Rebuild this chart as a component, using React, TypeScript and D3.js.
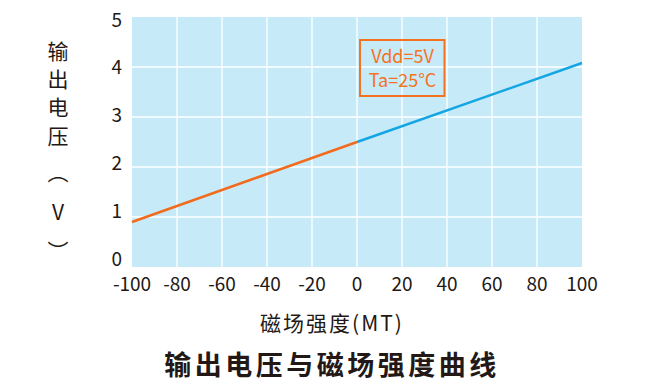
import * as d3 from "d3";

// field strength (MT) vs output voltage (V)
const fieldNeg = [-100, 0];
const voltNeg = [0.9, 2.5];
const fieldPos = [0, 100];
const voltPos = [2.5, 4.08];

const xTicks = [-100, -80, -60, -40, -20, 0, 20, 40, 60, 80, 100];
const yTicks = [0, 1, 2, 3, 4, 5];

const yTitleChars = ["输", "出", "电", "压", "︵", "V", "︶"];
const noteLines = ["Vdd=5V", "Ta=25°C"];
const xTitle = "磁场强度(MT)";
const chartTitle = "输出电压与磁场强度曲线";

const W = 661;
const H = 391;
const plot = { left: 132, right: 582, top: 17, bottom: 267 };
const font = '"Noto Sans CJK SC", "Noto Sans", sans-serif';

const App = () => {
  const x = d3.scaleLinear().domain([-100, 100]).range([plot.left, plot.right]);
  const y = d3.scaleLinear().domain([0, 5]).range([plot.bottom, plot.top]);
  // tick labels in the picture sit slightly off the grid lines
  const yLabel = d3.scaleLinear().domain([0, 5]).range([plot.bottom - 10, plot.top + 1]);

  const line = d3
    .line<[number, number]>()
    .x((d) => x(d[0]))
    .y((d) => y(d[1]));

  const negPts = fieldNeg.map((f, i) => [f, voltNeg[i]] as [number, number]);
  const posPts = fieldPos.map((f, i) => [f, voltPos[i]] as [number, number]);

  const yTitleY = [50, 78, 106, 135, 171, 211, 250];

  return (
    <svg
      width={W}
      height={H}
      style={{ position: "absolute", left: 0, top: 0, background: "#fff" }}
      fontFamily={font}
    >
      <rect
        x={plot.left}
        y={plot.top}
        width={plot.right - plot.left}
        height={plot.bottom - plot.top}
        fill="#c7eaf9"
      />
      {/* grid */}
      {xTicks.slice(1, -1).map((t) => (
        <line
          key={"gx" + t}
          x1={x(t)}
          x2={x(t)}
          y1={plot.top}
          y2={plot.bottom}
          stroke="#fff"
          strokeWidth={1.3}
        />
      ))}
      {yTicks.slice(1, -1).map((t) => (
        <line
          key={"gy" + t}
          x1={plot.left}
          x2={plot.right}
          y1={y(t)}
          y2={y(t)}
          stroke="#fff"
          strokeWidth={1.3}
        />
      ))}

      {/* series */}
      <path d={line(posPts) ?? ""} fill="none" stroke="#13a6e3" strokeWidth={2.5} />
      <path d={line(negPts) ?? ""} fill="none" stroke="#f26a1b" strokeWidth={2.5} />

      {/* note box */}
      <rect x={360} y={40} width={84.5} height={56} fill="none" stroke="#f37321" strokeWidth={2} />
      {noteLines.map((s, i) => (
        <text
          key={s}
          x={402.5}
          y={63 + i * 23.5}
          textAnchor="middle"
          fontSize={18}
          fill="#f37321"
        >
          {s}
        </text>
      ))}

      {/* axis labels */}
      {yTicks.map((t) => (
        <text
          key={"yl" + t}
          x={122}
          y={yLabel(t)}
          textAnchor="end"
          dominantBaseline="central"
          fontSize={19}
          fill="#231815"
        >
          {t}
        </text>
      ))}
      {xTicks.map((t) => (
        <text key={"xl" + t} x={x(t)} y={291} textAnchor="middle" fontSize={19} fill="#231815">
          {t}
        </text>
      ))}

      {yTitleChars.map((c, i) => (
        <text
          key={"yt" + i}
          x={58}
          y={yTitleY[i]}
          textAnchor="middle"
          dominantBaseline="central"
          fontSize={21}
          fill="#231815"
        >
          {c}
        </text>
      ))}

      <text
        x={332}
        y={322}
        textAnchor="middle"
        dominantBaseline="central"
        fontSize={21}
        letterSpacing={2}
        fill="#231815"
      >
        {xTitle}
      </text>
      <text
        x={332}
        y={363}
        textAnchor="middle"
        dominantBaseline="central"
        fontSize={27}
        fontWeight="bold"
        letterSpacing={3.5}
        fill="#231815"
      >
        {chartTitle}
      </text>
    </svg>
  );
};

export default App;
